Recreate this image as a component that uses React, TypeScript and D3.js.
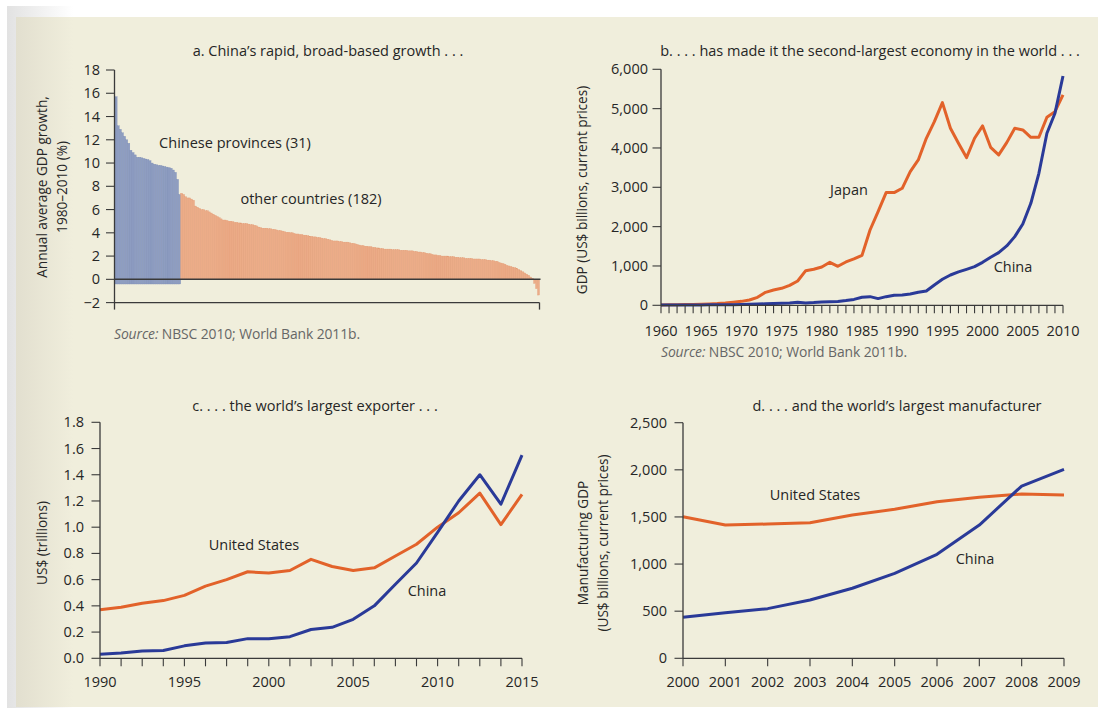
import React from 'react';
import * as d3 from 'd3';

// ---------- Panel a: average annual GDP growth 1980–2010 (%) ----------
const PROVINCE_GROWTH = [
  15.7, 13.2, 12.9, 12.6, 12.3, 12.0, 11.7, 11.1, 10.9, 10.7, 10.5, 10.5, 10.45, 10.4, 10.35, 10.3,
  10.2, 10.0, 9.9, 9.85, 9.8, 9.8, 9.75, 9.7, 9.65, 9.6, 9.55, 9.4, 9.2, 8.6, 7.3,
];
const COUNTRY_GROWTH = [
  7.4, 7.3, 7.1, 7.0, 7.0, 6.9, 6.8,
  6.3, 6.2, 6.1, 6.0, 6.0, 5.9, 5.9, 5.8, 5.7, 5.6, 5.5, 5.4, 5.3, 5.2,
  5.1, 5.1, 5.05, 5.0, 5.0, 4.95,
  4.9, 4.9, 4.85, 4.85, 4.8, 4.8, 4.8, 4.75, 4.7,
  4.7, 4.65, 4.6, 4.5,
  4.45, 4.4, 4.4, 4.4, 4.35, 4.35, 4.3,
  4.3, 4.25, 4.2, 4.2, 4.15, 4.1,
  4.05, 4.05, 4.0, 4.0, 3.95, 3.9, 3.9,
  3.85, 3.85, 3.8, 3.8, 3.75, 3.7, 3.7, 3.65, 3.65,
  3.6, 3.6, 3.55, 3.5, 3.5, 3.45, 3.4, 3.35,
  3.3, 3.3, 3.3, 3.25, 3.25, 3.2, 3.2, 3.2, 3.15, 3.1, 3.1, 3.05, 3.0,
  2.95, 2.9, 2.9, 2.85, 2.85, 2.8, 2.8, 2.75, 2.75, 2.7,
  2.7, 2.65, 2.65, 2.6, 2.6, 2.6, 2.6, 2.55, 2.55,
  2.55, 2.55, 2.5, 2.5, 2.5, 2.5, 2.45, 2.45, 2.45, 2.4,
  2.4, 2.35, 2.35, 2.3, 2.3, 2.25, 2.2, 2.2, 2.15, 2.1, 2.1, 2.05,
  2.05, 2.0, 2.0, 2.0, 2.0, 1.95, 1.95, 1.95, 1.9, 1.9, 1.85, 1.85, 1.85,
  1.8, 1.8, 1.8, 1.8, 1.75, 1.75, 1.75, 1.75, 1.7, 1.7, 1.7, 1.65,
  1.65, 1.6, 1.6, 1.55, 1.55, 1.45, 1.4, 1.35,
  1.3, 1.2, 1.15, 1.1, 1.05, 1.0, 0.95,
  0.85, 0.75, 0.65, 0.55, 0.45,
  0.35, 0.2, 0.1,
  -0.35, -0.8, -1.35,
];
// province bars hang slightly below the zero line
const PROVINCE_FLOOR = -0.4;
const GROWTH_TICKS = [-2, 0, 2, 4, 6, 8, 10, 12, 14, 16, 18];

// ---------- Panel b: GDP, US$ billions ----------
const GDP_YEARS = d3.range(1960, 2011);
const JAPAN_GDP = [
  10, 12, 15, 18, 22, 28, 35, 45, 60, 80,
  100, 136, 203, 330, 390, 432, 508, 619, 881, 915,
  975, 1093, 992, 1102, 1178, 1270, 1915, 2382, 2865, 2865,
  2975, 3400, 3695, 4246, 4670, 5153, 4500, 4119, 3755, 4246,
  4560, 4017, 3823, 4136, 4500, 4458, 4272, 4272, 4780, 4924,
  5348,
];
const CHINA_GDP = [
  5, 5, 5, 5, 8, 10, 12, 12, 14, 16,
  20, 25, 30, 38, 45, 55, 60, 75, 60, 70,
  85, 90, 95, 120, 150, 203, 220, 170, 220, 254,
  263, 288, 330, 364, 517, 661, 771, 848, 915, 983,
  1093, 1221, 1339, 1509, 1746, 2068, 2594, 3356, 4374, 4882,
  5831,
];
const GDP_TICKS = [0, 1000, 2000, 3000, 4000, 5000, 6000];
const GDP_YEAR_LABELS = [1960, 1965, 1970, 1975, 1980, 1985, 1990, 1995, 2000, 2005, 2010];

// ---------- Panel c: exports, US$ trillions (21 evenly spaced observations) ----------
const US_EXPORTS = [
  0.37, 0.39, 0.42, 0.44, 0.48, 0.55, 0.6, 0.66, 0.65, 0.67, 0.755,
  0.7, 0.67, 0.69, 0.78, 0.87, 1.0, 1.11, 1.26, 1.02, 1.25,
];
const CHINA_EXPORTS = [
  0.03, 0.04, 0.055, 0.06, 0.095, 0.117, 0.12, 0.15, 0.15, 0.165, 0.22,
  0.236, 0.297, 0.4, 0.565, 0.727, 0.96, 1.2, 1.4, 1.175, 1.55,
];
const EXPORT_TICKS = [0, 0.2, 0.4, 0.6, 0.8, 1.0, 1.2, 1.4, 1.6, 1.8];
const EXPORT_YEAR_LABELS = [
  { at: 0, label: '1990' },
  { at: 4, label: '1995' },
  { at: 8, label: '2000' },
  { at: 12, label: '2005' },
  { at: 16, label: '2010' },
  { at: 20, label: '2015' },
];

// ---------- Panel d: manufacturing GDP, US$ billions ----------
const MFG_YEARS = [2000, 2001, 2002, 2003, 2004, 2005, 2006, 2007, 2008, 2009];
const US_MFG = [1503, 1414, 1425, 1439, 1520, 1581, 1662, 1708, 1743, 1733];
const CHINA_MFG = [435, 484, 527, 619, 743, 902, 1103, 1414, 1828, 2005];
const MFG_TICKS = [0, 500, 1000, 1500, 2000, 2500];

const FONT = "'Open Sans', 'Noto Sans', sans-serif";
const FS = 14.5; // titles, annotations, tick labels
const FS_AXIS_TITLE = 13.6;
const INK = '#262626';
const AXIS = '#3a3a3a';
const ORANGE = '#e2622a';
const BLUE = '#2a3a98';
const CREAM = '#f0eedc';

const fmtComma = d3.format(',');
const fmtSigned = (v: number) => (v < 0 ? `\u2212${Math.abs(v)}` : `${v}`);

type LeftAxisProps = {
  x: number;
  y0: number;
  y1: number;
  ticks: number[];
  scale: (v: number) => number;
  format: (v: number) => string;
  labelRight: number;
};

function LeftAxis({ x, y0, y1, ticks, scale, format, labelRight }: LeftAxisProps) {
  return (
    <g>
      <line x1={x} x2={x} y1={y0} y2={y1} stroke={AXIS} strokeWidth={1.3} />
      {ticks.map((t) => (
        <g key={t}>
          <line x1={x - 8.5} x2={x} y1={scale(t)} y2={scale(t)} stroke={AXIS} strokeWidth={1.1} />
          <text
            x={labelRight}
            y={scale(t)}
            dy="0.35em"
            textAnchor="end"
            fontSize={FS}
            fill={INK}
            fontFamily={FONT}
          >
            {format(t)}
          </text>
        </g>
      ))}
    </g>
  );
}

function Label({ x, y, children, size = FS, anchor = 'middle' }: any) {
  return (
    <text x={x} y={y} dy="0.35em" textAnchor={anchor} fontSize={size} fill={INK} fontFamily={FONT}>
      {children}
    </text>
  );
}

function VLabel({ x, y, children, size = FS_AXIS_TITLE }: any) {
  return (
    <text
      transform={`translate(${x},${y}) rotate(-90)`}
      dy="0.35em"
      textAnchor="middle"
      fontSize={size}
      fill={INK}
      fontFamily={FONT}
    >
      {children}
    </text>
  );
}

function Source({ x, y }: { x: number; y: number }) {
  return (
    <text x={x} y={y} dy="0.35em" fontSize={13.9} fill="#666" fontFamily={FONT} letterSpacing={-0.1}>
      <tspan fontStyle="italic">Source:</tspan>
      <tspan> NBSC 2010; World Bank 2011b.</tspan>
    </text>
  );
}

function PanelA() {
  const y = d3.scaleLinear().domain([-2, 18]).range([302.6, 70]);
  const xProv = d3
    .scaleBand<number>()
    .domain(d3.range(PROVINCE_GROWTH.length))
    .range([115, 180.7]);
  const xCtry = d3
    .scaleBand<number>()
    .domain(d3.range(COUNTRY_GROWTH.length))
    .range([180.7, 539.5]);
  const left = 114.5;
  const right = 539.5;
  return (
    <g>
      <Label x={328} y={51}>a. China’s rapid, broad-based growth . . .</Label>
      {PROVINCE_GROWTH.map((v, i) => (
        <rect
          key={`p${i}`}
          x={xProv(i)}
          y={y(v)}
          width={xProv.bandwidth()}
          height={y(PROVINCE_FLOOR) - y(v)}
          fill="#8e9dc1"
          stroke="#7d8db6"
          strokeWidth={0.35}
        />
      ))}
      {COUNTRY_GROWTH.map((v, i) => (
        <rect
          key={`c${i}`}
          x={xCtry(i)}
          y={y(Math.max(v, 0))}
          width={xCtry.bandwidth()}
          height={Math.abs(y(v) - y(0))}
          fill="#ecac88"
          stroke="#e39b75"
          strokeWidth={0.35}
        />
      ))}
      <line x1={left} x2={right + 1} y1={y(0)} y2={y(0)} stroke={AXIS} strokeWidth={1.5} />
      <LeftAxis
        x={left}
        y0={y(18)}
        y1={y(-2) + 7}
        ticks={GROWTH_TICKS}
        scale={y}
        format={fmtSigned}
        labelRight={100}
      />
      <line x1={left} x2={right} y1={y(-2)} y2={y(-2)} stroke={AXIS} strokeWidth={1.3} />
      <line x1={right} x2={right} y1={y(-2)} y2={y(-2) + 7} stroke={AXIS} strokeWidth={1.3} />
      <Label x={235} y={143}>Chinese provinces (31)</Label>
      <Label x={311} y={199}>other countries (182)</Label>
      <VLabel x={42} y={187}>Annual average GDP growth,</VLabel>
      <VLabel x={62} y={187}>1980–2010 (%)</VLabel>
      <Source x={114} y={334} />
    </g>
  );
}

function PanelB() {
  const x = d3.scaleLinear().domain([1960, 2010]).range([661, 1063]);
  const y = d3.scaleLinear().domain([0, 6000]).range([305.3, 69.3]);
  const line = d3
    .line<number>()
    .x((_, i) => x(GDP_YEARS[i]))
    .y((v) => y(v));
  return (
    <g>
      <Label x={870} y={51}>b.  . . . has made it the second-largest economy in the world . . .</Label>
      <path d={line(JAPAN_GDP) || ''} fill="none" stroke={ORANGE} strokeWidth={3} strokeLinejoin="round" />
      <path d={line(CHINA_GDP) || ''} fill="none" stroke={BLUE} strokeWidth={3} strokeLinejoin="round" />
      <LeftAxis
        x={661}
        y0={y(6000)}
        y1={y(0)}
        ticks={GDP_TICKS}
        scale={y}
        format={fmtComma}
        labelRight={648}
      />
      <line x1={661} x2={1063} y1={y(0)} y2={y(0)} stroke={AXIS} strokeWidth={1.3} />
      {GDP_YEARS.map((yr) => (
        <line key={yr} x1={x(yr)} x2={x(yr)} y1={y(0)} y2={y(0) + 8} stroke={AXIS} strokeWidth={1.1} />
      ))}
      {GDP_YEAR_LABELS.map((yr) => (
        <Label key={yr} x={x(yr)} y={331}>
          {yr}
        </Label>
      ))}
      <Label x={849} y={190}>Japan</Label>
      <Label x={1013} y={267}>China</Label>
      <VLabel x={582} y={190}>GDP (US$ billions, current prices)</VLabel>
      <Source x={661} y={352} />
    </g>
  );
}

function PanelC() {
  const x = d3.scaleLinear().domain([0, US_EXPORTS.length - 1]).range([100, 522]);
  const y = d3.scaleLinear().domain([0, 1.8]).range([658.3, 422.3]);
  const line = d3
    .line<number>()
    .x((_, i) => x(i))
    .y((v) => y(v));
  return (
    <g>
      <Label x={315} y={406}>c.  . . . the world’s largest exporter . . .</Label>
      <path d={line(US_EXPORTS) || ''} fill="none" stroke={ORANGE} strokeWidth={3} strokeLinejoin="round" />
      <path d={line(CHINA_EXPORTS) || ''} fill="none" stroke={BLUE} strokeWidth={3} strokeLinejoin="round" />
      <LeftAxis
        x={100}
        y0={y(1.8)}
        y1={y(0)}
        ticks={EXPORT_TICKS}
        scale={y}
        format={d3.format('.1f')}
        labelRight={84}
      />
      <line x1={100} x2={522} y1={y(0)} y2={y(0)} stroke={AXIS} strokeWidth={1.3} />
      {US_EXPORTS.map((_, i) => (
        <line key={i} x1={x(i)} x2={x(i)} y1={y(0)} y2={y(0) + 8} stroke={AXIS} strokeWidth={1.1} />
      ))}
      {EXPORT_YEAR_LABELS.map((t) => (
        <Label key={t.label} x={x(t.at)} y={682}>
          {t.label}
        </Label>
      ))}
      <Label x={254} y={545}>United States</Label>
      <Label x={427} y={591}>China</Label>
      <VLabel x={42} y={543}>US$ (trillions)</VLabel>
    </g>
  );
}

function PanelD() {
  const x = d3.scaleLinear().domain([2000, 2009]).range([683, 1064]);
  const y = d3.scaleLinear().domain([0, 2500]).range([658.3, 422.7]);
  const line = d3
    .line<number>()
    .x((_, i) => x(MFG_YEARS[i]))
    .y((v) => y(v));
  return (
    <g>
      <Label x={897} y={406}>d.  . . . and the world’s largest manufacturer</Label>
      <path d={line(US_MFG) || ''} fill="none" stroke={ORANGE} strokeWidth={3} strokeLinejoin="round" />
      <path d={line(CHINA_MFG) || ''} fill="none" stroke={BLUE} strokeWidth={3} strokeLinejoin="round" />
      <LeftAxis
        x={683}
        y0={y(2500)}
        y1={y(0)}
        ticks={MFG_TICKS}
        scale={y}
        format={fmtComma}
        labelRight={667}
      />
      <line x1={683} x2={1064} y1={y(0)} y2={y(0)} stroke={AXIS} strokeWidth={1.3} />
      {MFG_YEARS.map((yr) => (
        <g key={yr}>
          <line x1={x(yr)} x2={x(yr)} y1={y(0)} y2={y(0) + 8} stroke={AXIS} strokeWidth={1.1} />
          <Label x={x(yr)} y={682}>
            {yr}
          </Label>
        </g>
      ))}
      <Label x={815} y={495}>United States</Label>
      <Label x={975} y={559}>China</Label>
      <VLabel x={583} y={543}>Manufacturing GDP</VLabel>
      <VLabel x={603} y={543}>(US$ billions, current prices)</VLabel>
    </g>
  );
}

export default function App() {
  return (
    <div style={{ position: 'fixed', left: 0, top: 0 }}>
      <svg width={1098} height={708} viewBox="0 0 1098 708" style={{ display: 'block' }}>
        <defs>
          <linearGradient id="pageEdge" x1="0" x2="1" y1="0" y2="0">
            <stop offset="0" stopColor="#e2e2e2" />
            <stop offset="1" stopColor="#ffffff" />
          </linearGradient>
          <linearGradient id="creamEdge" x1="0" x2="1" y1="0" y2="0">
            <stop offset="0" stopColor="#e2dfcf" />
            <stop offset="1" stopColor={CREAM} />
          </linearGradient>
        </defs>
        <rect width={1098} height={708} fill="#ffffff" />
        <rect x={7} y={6} width={66} height={702} fill="url(#pageEdge)" />
        <rect x={16} y={17} width={1082} height={690} fill={CREAM} />
        <rect x={16} y={17} width={57} height={690} fill="url(#creamEdge)" />
        <PanelA />
        <PanelB />
        <PanelC />
        <PanelD />
      </svg>
    </div>
  );
}
